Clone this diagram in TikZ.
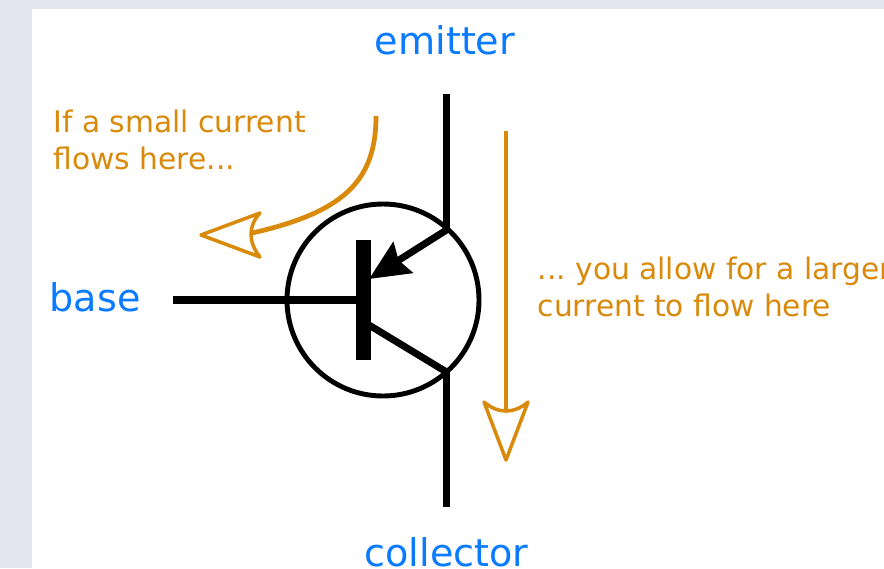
\documentclass[tikz,border=0pt]{standalone}
\usepackage{fontspec}
\usepackage{tikz}
\usetikzlibrary{arrows.meta}
\setmainfont{DejaVu Sans}
\definecolor{pagebg}{HTML}{E4E7F0}
\definecolor{termblue}{HTML}{0A7BFF}
\definecolor{flowamber}{HTML}{D98A0B}
\tikzset{
  termlabel/.style={text=termblue,inner sep=0pt,font=\fontsize{10.85}{13}\selectfont},
  flowlabel/.style={text=flowamber,inner sep=0pt,anchor=west,align=left,font=\fontsize{8.45}{10.5}\selectfont\frenchspacing},
  wire/.style={line width=2pt},
  flowline/.style={draw=flowamber,line width=1.35pt},
  flowhead/.style={draw=flowamber,fill=white,line width=1pt,line join=round}
}

\begin{document}
\begin{tikzpicture}
        \useasboundingbox (0,0) rectangle (8.84,5.68);
        \clip (0,0) rectangle (8.84,5.68);
        % Page behind the figure
        \fill[pagebg] (0,0) rectangle (8.84,5.68);
        \fill[white] (0.32,0) rectangle (8.84,5.59);
        % Transistor symbol
        \node[circle,draw,line width=1.4pt,minimum size=1.92cm,inner sep=0pt] (casing) at (3.83,2.68) {};
        \node[fill=black,minimum width=0.155cm,minimum height=1.2cm,inner sep=0pt] (bar) at (3.635,2.68) {};
        \coordinate (emitterTop) at (4.465,4.74);
        \coordinate (emitterJoin) at (4.465,3.38);
        \coordinate (emitterTip) at (3.69,2.89);
        \coordinate (collectorJoin) at (4.465,1.96);
        \coordinate (collectorBar) at (3.64,2.46);
        \coordinate (collectorEnd) at (4.465,0.61);
        \coordinate (baseEnd) at (1.73,2.68);
        \draw[wire] (emitterTop) -- (emitterJoin);
        \draw[wire] (collectorJoin) -- (collectorEnd);
        \draw[wire] (collectorBar) -- (collectorJoin);
        \draw[wire] (baseEnd) -- (bar.center);
        \draw[wire,-{Stealth[length=0.4cm,width=0.36cm,inset=0.05cm]}] (emitterJoin) -- (emitterTip);
        % Labels
        \node[termlabel] (emitter) at (4.45,5.28) {emitter};
        \node[termlabel] (collector) at (4.465,0.16) {collector};
        \node[termlabel,anchor=west] (base) at (0.49,2.71) {base};
        \node[flowlabel] (smallnote) at (0.53,4.28) {If a small current\\flows here...};
        \node[flowlabel] (largenote) at (5.37,2.815) {... you allow for a larger\\current to flow here};
        % Small current, bent arrow
        \coordinate (smallStart) at (3.76,4.52);
        \coordinate (smallEnd) at (2.52,3.35);
        \draw[flowline] (smallStart) .. controls (3.76,3.88) and (3.45,3.56) .. (smallEnd);
        \draw[flowhead] (2.01,3.33) -- (2.60,3.55) .. controls (2.48,3.42) and (2.48,3.26) .. (2.60,3.11) -- cycle;
        % Large current, straight arrow
        \coordinate (largeStart) at (5.06,4.37);
        \coordinate (largeEnd) at (5.06,1.57);
        \draw[flowline] (largeStart) -- (largeEnd);
        \draw[flowhead] (5.06,1.08) -- (4.84,1.66) .. controls (4.98,1.54) and (5.14,1.54) .. (5.28,1.66) -- cycle;
    \end{tikzpicture}
\end{document}
